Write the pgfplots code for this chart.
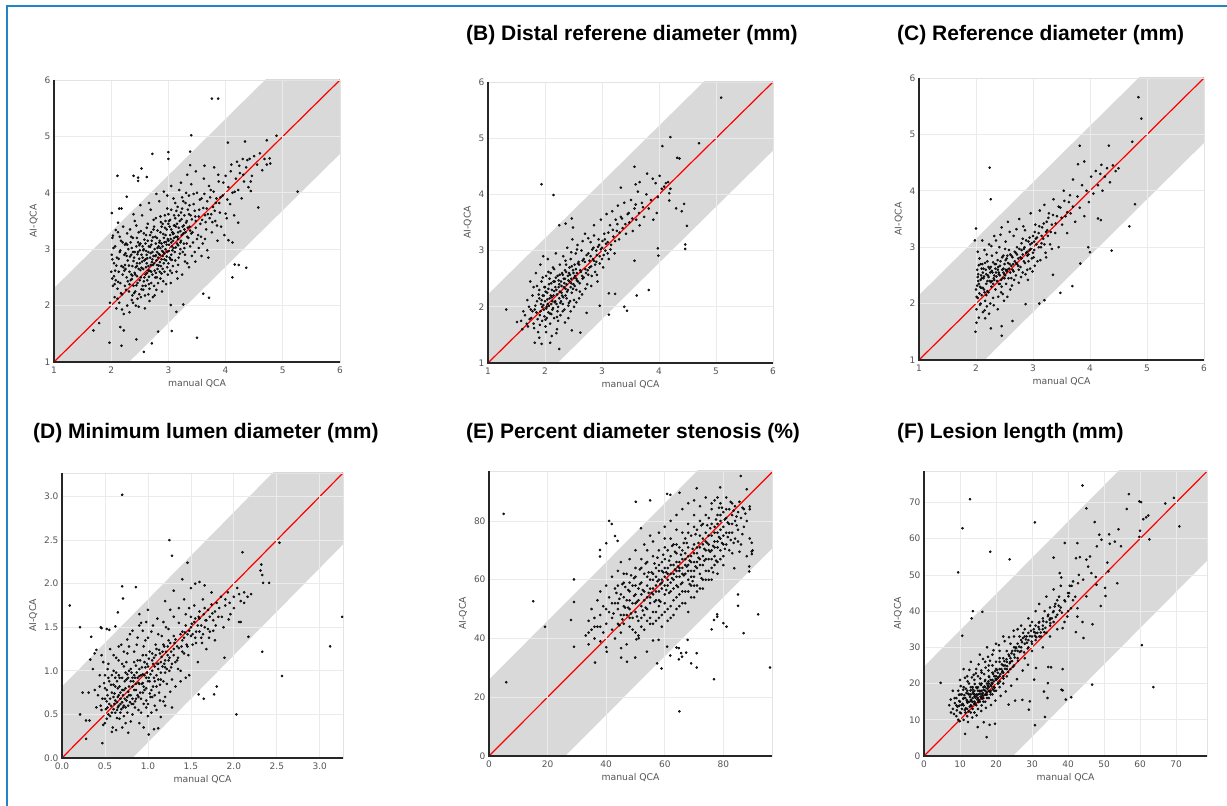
\documentclass[border=0pt]{standalone}
\usepackage{fontspec}
\usepackage{pgfplots}
\pgfplotsset{compat=1.18}
\newfontfamily\dejavu{DejaVu Sans}
\newfontfamily\titlefont{Liberation Sans}
\definecolor{frameblue}{HTML}{2185C5}
\definecolor{ticktext}{HTML}{555555}
\newcommand\ttl{\titlefont\bfseries\fontsize{21}{24}\selectfont}

\pgfplotsset{
  qca/.style={
    scale only axis,
    axis on top,
    axis line style={draw=gray!22, line width=0.8pt},
    grid=major,
    grid style={draw=gray!16, line width=0.8pt},
    major tick length=0pt,
    tick label style={font=\dejavu\fontsize{9}{10}\selectfont, text=ticktext},
    xticklabel style={yshift=-1.5pt},
    label style={font=\dejavu\fontsize{9.3}{11}\selectfont, text=ticktext},
    /pgf/number format/assume math mode=true,
    xlabel={manual QCA}, ylabel={AI-QCA},
    xlabel style={yshift=1pt},
    after end axis/.code={
      \draw[black!85, line width=1.5pt] (rel axis cs:0,1) -- (rel axis cs:0,0) -- (rel axis cs:1,0);
    },
  },
  pts/.style={only marks, mark=*, mark size=1.1pt, mark options={draw=none, fill=black!85}},
  band/.style={fill=gray!30, draw=none},
  diag/.style={red, line width=1.2pt},
}

\begin{document}
\begin{tikzpicture}
\useasboundingbox (0,0) rectangle (1227pt,806pt);
\fill[white] (0,0) rectangle (1227pt,806pt);
\draw[frameblue, line width=2pt] (7pt,0) -- (7pt,800pt) -- (1227pt,800pt);

% (A)
\begin{axis}[qca, at={(54pt,444pt)}, anchor=south west, width=286pt, height=282pt,
  xmin=1, xmax=6, ymin=1, ymax=6, xtick={1,...,6}, ytick={1,...,6}]
\addplot[band] coordinates {(1,2.31) (6,7.31) (6,4.69) (1,-0.31)};
\addplot[pts] coordinates {
(1.98,2.05)(2.0,2.6)(2.01,2.9)(2.02,3.2)(2.03,2.35)(2.05,2.75)(2.06,2.15)(2.07,3.05)(2.08,2.45)(2.09,1.95)(2.1,2.85)(2.11,2.3)(2.12,3.3)(2.13,2.6)(2.14,2.05)(2.15,2.95)(2.16,2.4)(2.17,3.15)(2.18,2.7)(2.19,2.2)(2.2,2.55)(2.21,3.4)(2.22,1.85)(2.23,2.9)(2.24,2.35)(2.25,2.65)(2.26,3.1)(2.27,2.5)(2.28,2.0)(2.29,2.8)
(2.3,3.0)(2.31,2.25)(2.32,2.6)(2.33,3.35)(2.34,2.45)(2.35,2.9)(2.36,2.1)(2.37,2.7)(2.38,3.2)(2.39,2.35)(2.4,2.85)(2.41,3.5)(2.42,2.55)(2.43,2.0)(2.44,3.05)(2.45,2.7)(2.46,2.4)(2.47,2.95)(2.48,3.3)(2.49,2.2)(2.5,2.75)(2.51,3.1)(2.52,2.5)(2.53,2.9)(2.54,3.6)(2.55,2.35)(2.56,2.65)(2.57,3.0)(2.58,2.8)(2.59,1.95)(2.6,2.55)(2.61,3.25)(2.62,2.9)(2.63,2.45)(2.64,3.45)(2.65,2.7)(2.66,3.05)(2.67,2.3)(2.68,2.85)(2.69,3.7)(2.7,2.6)(2.71,3.15)(2.72,2.95)(2.73,2.15)(2.74,3.35)(2.75,2.75)(2.76,3.0)(2.77,2.5)(2.78,3.55)(2.79,2.8)(2.8,3.2)(2.81,2.65)(2.82,2.4)(2.83,3.05)(2.84,3.85)(2.85,2.9)(2.86,3.3)(2.87,2.7)(2.88,3.1)(2.89,2.25)(2.9,3.45)(2.91,2.95)(2.92,3.2)(2.93,2.6)(2.94,3.6)(2.95,3.0)(2.96,2.8)(2.97,3.35)(2.98,3.95)(2.99,2.55)
(3.0,3.15)(3.01,3.5)(3.02,2.85)(3.03,3.25)(3.04,2.4)(3.05,3.7)(3.06,3.05)(3.07,3.3)(3.08,2.7)(3.09,3.9)(3.1,3.2)(3.11,2.95)(3.12,3.55)(3.13,3.4)(3.14,2.6)(3.15,3.1)(3.16,3.75)(3.17,3.3)(3.18,2.85)(3.19,4.05)(3.2,3.5)(3.21,3.0)(3.22,3.65)(3.23,3.25)(3.24,2.55)(3.25,3.4)(3.26,3.85)(3.27,3.1)(3.28,3.6)(3.29,2.9)(3.3,3.3)(3.31,4.0)(3.32,3.5)(3.33,2.75)(3.34,3.7)(3.35,3.2)(3.36,3.95)(3.37,3.4)(3.38,3.05)(3.39,3.6)(3.4,4.15)(3.42,3.3)(3.44,3.8)(3.46,2.95)(3.48,3.5)(3.5,4.0)(3.52,3.25)(3.54,3.7)(3.56,3.45)(3.58,3.9)(3.6,3.1)(3.62,4.25)(3.64,3.6)(3.66,3.35)(3.68,3.85)(3.7,2.85)(3.72,3.55)(3.74,4.05)(3.76,3.3)(3.78,3.75)(3.8,4.45)(3.82,3.5)(3.84,3.9)(3.86,3.15)(3.88,4.2)(3.9,3.65)(3.92,3.4)(3.95,3.95)(3.98,3.25)
(4.0,4.3)(4.02,3.55)(4.05,4.1)(4.08,3.8)(4.1,4.5)(4.12,4.0)(4.15,3.6)(4.18,4.25)(4.2,4.55)(4.22,4.05)(4.25,4.35)(4.28,3.9)(4.3,4.6)(4.32,4.2)(4.36,4.45)(4.4,4.1)(4.42,4.6)(4.46,4.3)(4.5,4.65)(4.55,4.5)(4.6,4.7)(4.64,4.4)(4.68,4.6)(4.72,4.5)
(2.35,2.55)(2.38,2.95)(2.42,2.25)(2.45,3.2)(2.48,2.65)(2.52,2.15)(2.55,3.05)(2.58,2.5)(2.62,2.75)(2.65,2.2)(2.68,3.25)(2.72,2.55)(2.75,2.35)(2.78,3.1)(2.82,2.85)(2.85,2.6)(2.88,3.4)(2.92,2.75)(2.95,3.25)(2.98,2.95)(3.02,3.4)(3.05,2.9)(3.08,3.15)(3.12,2.8)(3.15,3.45)(3.18,3.6)(3.22,3.15)(3.25,2.95)(3.28,3.35)(3.32,3.1)(2.5,2.45)(2.55,2.85)(2.6,3.1)(2.65,2.95)(2.7,2.4)(2.75,3.4)(2.8,2.5)(2.85,3.15)(2.9,2.65)(2.95,3.5)(3.0,2.75)(3.05,3.35)(3.1,3.6)(2.45,2.75)(2.6,2.35)(2.7,3.3)(2.8,2.95)(2.9,3.05)(3.0,3.45)
(3.76,5.67)(3.87,5.67)(3.40,5.02)(4.89,5.01)(4.72,4.93)(4.34,4.91)(4.04,4.89)(2.72,4.69)(3.0,4.72)(3.0,4.60)(3.38,4.73)(3.38,4.49)(2.11,4.30)(2.39,4.30)(2.47,4.27)(2.47,4.21)(2.62,4.28)(2.53,4.43)(2.27,3.93)(2.01,3.64)(2.14,3.72)(2.18,3.72)(2.12,3.47)(2.08,3.34)(2.03,3.24)
(5.26,4.02)(4.57,3.74)(4.44,4.20)(4.44,4.03)(4.16,2.73)(4.23,2.72)(4.36,2.67)(4.12,2.50)(3.61,2.21)(3.71,2.14)(3.50,1.43)(3.06,1.55)(2.82,1.54)(2.71,1.33)(2.57,1.18)(2.44,1.40)(1.97,1.34)(2.18,1.29)(1.69,1.56)(1.79,1.69)(2.22,1.56)(2.16,1.62)(3.14,1.89)(3.04,2.01)(3.26,2.02)(4.05,3.16)(4.12,3.12)(4.0,3.63)(4.22,3.47)(4.78,4.52)(4.77,4.61)
};
\addplot[pts] coordinates {
(2.23,2.62)(2.27,2.88)(2.31,2.71)(2.34,3.12)(2.36,2.47)(2.39,2.79)(2.41,2.58)(2.44,2.36)(2.46,2.91)(2.49,3.07)(2.51,2.63)(2.53,2.29)(2.56,2.98)(2.58,3.17)(2.61,2.68)(2.63,2.84)(2.66,2.51)(2.68,3.04)(2.71,2.77)(2.73,3.21)(2.76,2.62)(2.78,2.89)(2.81,3.33)(2.83,2.71)(2.86,3.02)(2.88,2.57)(2.91,3.27)(2.93,2.92)(2.96,3.13)(2.98,2.68)(3.01,3.08)(3.03,3.52)(3.06,2.81)(3.08,3.27)(3.11,3.42)(3.13,3.03)(3.16,3.22)(3.18,3.38)(3.21,3.12)(3.23,3.53)(3.26,3.28)(3.28,3.02)(3.31,3.47)(3.33,3.22)(3.36,3.62)(3.38,3.33)(3.41,3.53)(3.43,3.12)(3.46,3.68)(3.48,3.38)(3.53,3.58)(3.57,3.22)(3.61,3.73)(3.65,3.48)(3.69,3.62)(3.73,3.92)(3.77,3.48)(3.81,3.68)(3.85,3.42)(3.89,3.82)
(2.05,2.52)(2.09,2.71)(2.13,2.83)(2.17,2.22)(2.21,2.68)(2.25,2.93)(2.29,2.43)(2.33,2.87)(2.37,2.53)(2.41,2.95)(2.45,2.52)(2.49,2.83)(2.53,2.67)(2.57,2.43)(2.61,2.97)(2.65,2.62)(2.69,2.93)(2.73,2.72)(2.77,2.88)(2.81,3.02)(2.85,2.77)(2.89,2.97)(2.93,3.12)(2.97,2.87)(3.01,2.97)(3.05,3.12)(3.09,3.02)(3.13,3.22)(3.17,3.07)(3.21,3.32)(2.62,3.38)(2.74,3.52)(2.86,3.58)(2.98,3.72)(3.12,3.82)(3.24,3.92)(2.52,3.32)(2.44,3.42)(2.35,3.22)(2.28,3.28)
(2.59,2.18)(2.67,2.08)(2.79,2.28)(2.91,2.43)(3.03,2.62)(3.17,2.72)(3.29,2.78)(3.41,2.88)(3.53,3.02)(3.64,3.18)(2.38,2.05)(2.48,1.98)(2.32,1.88)(2.19,1.93)(2.11,2.12)(2.06,2.38)(2.02,2.82)(2.04,3.02)(2.15,3.22)(2.24,3.08)
(2.02,2.48)(2.07,2.62)(2.12,2.42)(2.16,2.98)(2.2,3.12)(2.24,2.72)(2.28,3.08)(2.32,2.38)(2.36,3.02)(2.4,2.22)(2.43,2.68)(2.47,3.12)(2.5,2.98)(2.54,2.78)(2.57,3.28)(2.6,2.82)(2.64,3.15)(2.67,2.62)(2.7,3.08)(2.74,2.88)(2.77,3.22)(2.8,2.72)(2.84,3.12)(2.87,3.48)(2.9,2.88)(2.94,3.38)(2.97,3.08)(3.0,3.62)(3.04,3.18)(3.07,2.98)(3.1,3.42)(3.14,3.68)(3.17,3.18)(3.2,2.92)(3.24,3.72)(3.27,3.42)(3.3,3.82)(3.34,3.38)(3.37,3.78)(3.4,3.28)
(3.44,3.98)(3.47,3.58)(3.5,3.18)(3.55,3.88)(3.59,3.52)(3.63,3.98)(3.67,3.72)(3.71,4.12)(3.75,3.62)(3.79,4.02)(3.83,3.82)(3.87,4.32)(3.91,3.92)(3.96,4.18)(4.03,3.88)(4.09,4.38)(4.16,4.02)(4.24,4.48)(4.31,4.32)(4.38,4.58)(2.26,2.28)(2.37,2.18)(2.46,2.12)(2.56,2.28)(2.66,2.38)(2.76,2.18)(2.86,2.48)(2.96,2.38)(3.06,2.58)(3.16,2.48)(3.36,2.68)(3.47,2.78)(3.58,2.88)(3.68,2.98)
(2.63,2.58)(2.69,2.72)(2.72,2.82)(2.78,2.58)(2.83,2.92)(2.88,2.82)(2.93,2.82)(2.99,3.18)(3.04,2.82)(3.09,3.28)(2.39,3.62)(2.51,3.78)(2.66,3.82)(2.79,3.98)(2.92,4.02)(3.05,4.12)(3.22,4.18)(3.33,4.32)(3.48,4.38)(3.63,4.48)
};
\addplot[diag] coordinates {(1,1) (6,6)};
\end{axis}

% (B)
\begin{axis}[qca, at={(488pt,443pt)}, anchor=south west, width=285pt, height=281pt,
  xmin=1, xmax=6, ymin=1, ymax=6, xtick={1,...,6}, ytick={1,...,6}]
\addplot[band] coordinates {(1,2.22) (6,7.22) (6,4.78) (1,-0.22)};
\addplot[pts] coordinates {
(1.7,1.65)(1.72,2.0)(1.74,2.45)(1.76,1.8)(1.78,2.2)(1.8,1.7)(1.82,1.95)(1.84,2.6)(1.86,2.1)(1.88,1.55)(1.9,2.3)(1.91,1.85)(1.92,2.75)(1.93,2.05)(1.94,2.45)(1.95,1.75)(1.96,2.2)(1.97,2.9)(1.98,1.95)(1.99,2.35)(2.0,2.1)(2.01,1.65)(2.02,2.55)(2.03,2.0)(2.04,2.25)(2.05,2.85)(2.06,1.9)(2.07,2.4)(2.08,2.15)(2.09,1.7)(2.1,2.6)(2.11,2.05)(2.12,2.3)(2.13,1.95)(2.14,2.7)(2.15,2.2)(2.16,1.8)(2.17,2.45)(2.18,2.1)(2.19,2.95)(2.2,2.3)(2.21,1.6)(2.22,2.55)(2.23,2.0)(2.24,2.35)(2.25,2.15)(2.26,2.75)(2.27,1.85)(2.28,2.45)(2.29,2.25)
(2.3,2.6)(2.31,2.05)(2.32,2.9)(2.33,2.35)(2.34,1.95)(2.35,2.5)(2.36,2.2)(2.37,2.75)(2.38,2.4)(2.39,3.05)(2.4,2.3)(2.41,1.8)(2.42,2.6)(2.43,2.45)(2.44,2.1)(2.45,2.85)(2.46,2.5)(2.47,2.25)(2.48,3.2)(2.49,2.65)(2.5,2.4)(2.51,2.0)(2.52,2.75)(2.53,2.55)(2.54,2.95)(2.55,2.3)(2.56,2.6)(2.57,3.1)(2.58,2.45)(2.59,2.8)(2.6,2.15)(2.62,2.65)(2.64,3.0)(2.66,2.5)(2.68,2.85)(2.7,3.3)(2.72,2.6)(2.74,2.4)(2.76,2.95)(2.78,2.7)(2.8,3.15)(2.82,2.55)(2.84,2.85)(2.86,3.45)(2.88,2.75)(2.9,3.0)(2.92,2.45)(2.94,3.2)(2.96,2.9)(2.98,3.55)
(3.0,3.05)(3.02,2.7)(3.04,3.3)(3.06,3.0)(3.08,3.65)(3.1,3.15)(3.12,2.85)(3.14,3.45)(3.16,3.1)(3.18,3.7)(3.2,3.25)(3.22,2.95)(3.24,3.55)(3.26,3.35)(3.28,3.8)(3.3,3.2)(3.33,3.6)(3.36,3.4)(3.39,3.85)(3.42,3.3)(3.45,3.65)(3.48,3.5)(3.51,3.9)(3.54,3.35)(3.57,3.75)(3.6,3.55)(3.63,4.05)(3.66,3.45)(3.7,3.85)(3.74,3.6)(3.78,4.0)(3.82,3.75)(3.86,3.9)(3.9,3.55)(3.94,4.2)(3.98,3.95)(4.05,4.1)(4.12,4.2)(4.2,4.1)
(1.85,1.9)(1.9,2.15)(1.95,2.0)(2.0,2.35)(2.05,2.05)(2.1,2.2)(2.15,2.45)(2.2,2.05)(2.25,2.4)(2.3,2.2)(2.35,2.65)(2.4,2.55)(2.45,2.35)(2.5,2.6)(2.55,2.5)(2.6,2.75)(2.65,2.55)(2.7,2.8)(2.75,2.65)(2.8,2.9)(2.85,3.05)(2.9,2.8)(2.95,3.1)(3.0,2.85)(3.05,3.2)(3.1,2.95)(1.98,2.2)(2.03,1.8)(2.08,2.5)(2.13,2.1)(2.18,2.35)(2.23,1.75)(2.28,2.1)(2.33,2.5)(2.38,2.15)(2.43,2.7)(1.8,2.35)(1.75,1.95)(1.68,1.7)(1.65,1.85)
(5.09,5.72)(4.2,5.02)(4.06,4.86)(4.70,4.91)(4.32,4.65)(4.36,4.64)(1.94,4.18)(2.15,3.99)(2.25,3.45)(2.49,3.41)(2.36,3.48)(2.47,3.57)(1.32,1.95)(1.51,1.73)(2.25,1.25)(1.82,1.36)(1.94,1.34)(2.09,1.36)(2.20,1.53)(2.47,1.58)(2.62,1.54)(2.73,1.89)(2.96,2.02)(3.12,1.86)(3.39,2.0)(3.44,1.93)(3.61,2.20)(3.82,2.30)(3.12,2.24)(3.23,2.23)
(3.57,4.49)(3.98,3.04)(3.99,2.91)(4.46,3.11)(4.46,3.03)(4.49,3.44)(4.44,3.83)(4.30,3.75)(4.40,3.70)(4.18,3.89)(3.96,3.67)(3.33,4.12)(3.79,4.37)(4.01,4.33)(3.89,4.28)(3.59,4.18)(3.66,4.22)(4.16,4.22)(4.18,4.02)(4.09,4.14)(3.57,2.82)
};
\addplot[pts] coordinates {
(1.83,2.02)(1.87,1.78)(1.89,2.22)(1.92,1.92)(1.94,2.12)(1.97,2.03)(1.99,1.83)(2.01,2.27)(2.02,1.97)(2.04,2.13)(2.06,2.32)(2.07,2.02)(2.09,1.88)(2.11,2.42)(2.12,2.17)(2.14,1.98)(2.16,2.28)(2.17,2.08)(2.19,2.52)(2.21,2.22)(2.22,1.92)(2.24,2.47)(2.26,2.27)(2.27,2.07)(2.29,2.37)(2.31,2.57)(2.32,2.17)(2.34,2.42)(2.36,2.32)(2.37,2.62)(2.39,2.27)(2.41,2.47)(2.42,2.07)(2.44,2.57)(2.46,2.42)(2.47,2.72)(2.49,2.32)(2.51,2.52)(2.52,2.37)(2.54,2.67)(2.56,2.47)(2.58,2.77)(2.61,2.42)(2.63,2.62)(2.66,2.82)(2.68,2.52)(2.71,2.67)(2.73,2.92)(2.76,2.57)(2.78,2.82)(2.81,2.72)(2.83,3.02)(2.86,2.82)(2.88,2.62)(2.91,2.92)(2.93,3.07)(2.96,2.77)(2.98,3.02)(3.01,3.17)(3.03,2.92)
(3.07,3.12)(3.11,3.32)(3.15,3.02)(3.19,3.37)(3.23,3.17)(3.27,3.47)(3.31,3.32)(3.35,3.57)(3.41,3.47)(3.47,3.67)(3.53,3.57)(3.59,3.82)(3.65,3.67)(3.72,3.77)(1.78,1.92)(1.81,1.62)(1.86,2.37)(1.91,1.68)(1.96,2.52)(2.01,1.77)(2.06,2.62)(2.11,1.87)(2.16,2.67)(2.21,1.82)(2.26,2.57)(2.31,1.92)(2.36,2.82)(2.41,2.02)(2.46,2.97)(2.51,2.12)(2.56,3.02)(2.61,2.27)(2.66,3.17)(2.71,2.32)(2.76,3.22)(2.81,2.37)(2.86,3.27)(2.91,2.57)
(1.73,1.78)(1.69,2.12)(1.62,1.92)(1.6,1.6)(1.58,1.75)(2.35,1.72)(2.45,1.92)(2.55,2.08)(2.65,2.22)(2.02,1.55)(2.12,1.48)(1.9,1.45)
};
\addplot[diag] coordinates {(1,1) (6,6)};
\end{axis}

% (C)
\begin{axis}[qca, at={(919pt,446pt)}, anchor=south west, width=285pt, height=282pt,
  xmin=1, xmax=6, ymin=1, ymax=6, xtick={1,...,6}, ytick={1,...,6}]
\addplot[band] coordinates {(1,2.15) (6,7.15) (6,4.85) (1,-0.15)};
\addplot[pts] coordinates {
(2.0,2.25)(2.01,1.9)(2.02,2.6)(2.03,2.1)(2.04,2.4)(2.05,1.75)(2.06,2.8)(2.07,2.3)(2.08,2.0)(2.09,2.5)(2.1,2.15)(2.11,2.7)(2.12,1.85)(2.13,2.45)(2.14,2.25)(2.15,2.95)(2.16,2.05)(2.17,2.6)(2.18,2.35)(2.19,1.95)(2.2,2.75)(2.21,2.5)(2.22,2.2)(2.23,3.05)(2.24,2.4)(2.25,2.0)(2.26,2.65)(2.27,2.3)(2.28,2.85)(2.29,2.55)
(2.3,2.1)(2.31,2.45)(2.32,3.2)(2.33,2.7)(2.34,2.25)(2.35,2.55)(2.36,2.9)(2.37,2.4)(2.38,1.9)(2.39,2.65)(2.4,2.35)(2.41,3.0)(2.42,2.5)(2.43,2.75)(2.44,2.2)(2.45,3.35)(2.46,2.6)(2.47,2.45)(2.48,2.85)(2.49,2.05)(2.5,2.7)(2.51,2.5)(2.52,3.1)(2.53,2.35)(2.54,2.8)(2.55,2.6)(2.56,3.45)(2.57,2.45)(2.58,2.95)(2.59,2.7)(2.6,2.25)(2.62,2.85)(2.64,2.6)(2.66,3.2)(2.68,2.75)(2.7,2.5)(2.72,3.0)(2.74,2.8)(2.76,3.5)(2.78,2.65)(2.8,2.95)(2.82,3.15)(2.84,2.75)(2.86,3.3)(2.88,2.9)(2.9,2.6)(2.92,3.1)(2.94,2.95)(2.96,3.6)(2.98,2.8)
(3.0,3.2)(3.02,2.95)(3.04,3.4)(3.06,3.05)(3.08,2.75)(3.1,3.25)(3.12,3.65)(3.14,3.0)(3.16,3.35)(3.18,3.15)(3.2,3.75)(3.22,2.9)(3.24,3.45)(3.26,3.2)(3.28,3.6)(3.3,3.05)(3.33,3.4)(3.36,3.85)(3.39,3.25)(3.42,3.55)(3.45,3.0)(3.48,3.7)(3.51,3.4)(3.54,4.0)(3.57,3.55)(3.6,3.25)(3.63,3.8)(3.66,3.6)(3.7,4.2)(3.74,3.45)(3.78,3.9)(3.82,3.7)(3.86,4.1)(3.9,3.55)(3.94,4.0)(3.98,3.8)(4.02,4.25)(4.06,3.95)(4.1,4.35)(4.14,4.1)(4.18,4.3)(4.22,4.0)(4.26,4.25)(4.3,4.4)(4.35,4.15)(4.4,4.45)(4.45,4.35)(4.5,4.4)
(2.05,2.35)(2.1,2.45)(2.15,2.2)(2.2,2.4)(2.25,2.55)(2.3,2.35)(2.35,2.7)(2.4,2.55)(2.45,2.3)(2.5,2.45)(2.55,2.85)(2.6,2.55)(2.65,2.7)(2.7,2.9)(2.75,2.6)(2.8,2.8)(2.85,3.0)(2.9,2.85)(2.95,3.05)(3.0,2.9)(3.05,3.15)(3.1,3.0)(3.15,3.2)(3.2,3.05)(3.25,3.3)(2.12,2.55)(2.22,2.65)(2.32,2.5)(2.42,2.35)(2.52,2.6)(2.62,2.45)(2.72,2.7)(2.82,2.55)(2.92,2.75)(3.02,3.1)(2.08,2.7)(2.18,2.15)(2.28,2.4)(2.38,2.6)(2.48,2.55)
(4.85,5.66)(4.90,5.28)(4.33,4.80)(3.82,4.80)(4.74,4.87)(3.90,4.52)(3.79,4.47)(4.20,4.46)(2.24,4.41)(2.26,3.85)(2.0,3.33)(1.98,3.12)(4.79,3.76)(4.69,3.37)(4.38,2.94)(4.0,2.91)(3.69,2.31)(3.48,2.19)(3.20,2.06)(3.11,2.0)(2.87,1.99)(2.64,1.69)(2.45,1.43)(2.45,1.60)(1.99,1.50)(2.01,1.66)(2.26,1.56)(2.16,1.74)(3.35,2.51)(3.83,2.71)(3.97,3.0)(4.14,3.51)(4.19,3.48)
};
\addplot[pts] coordinates {
(2.02,2.32)(2.04,2.52)(2.06,2.18)(2.08,2.42)(2.1,2.62)(2.12,2.28)(2.14,2.48)(2.16,2.72)(2.18,2.52)(2.2,2.22)(2.22,2.47)(2.24,2.62)(2.26,2.38)(2.28,2.58)(2.3,2.73)(2.32,2.42)(2.34,2.62)(2.36,2.48)(2.38,2.77)(2.4,2.52)(2.42,2.67)(2.44,2.42)(2.46,2.82)(2.48,2.62)(2.5,2.52)(2.52,2.77)(2.54,2.57)(2.56,2.72)(2.58,2.62)(2.6,2.87)(2.62,2.67)(2.64,2.82)(2.66,2.57)(2.68,2.92)(2.7,2.72)(2.72,2.87)(2.74,2.67)(2.76,2.97)(2.78,2.82)(2.8,3.07)(2.82,2.87)(2.84,2.97)(2.86,2.72)(2.88,3.12)(2.9,2.92)(2.92,2.87)(2.94,3.17)(2.96,2.97)(2.98,3.07)(3.01,2.82)
(3.03,3.27)(3.07,3.17)(3.11,3.37)(3.15,3.07)(3.19,3.42)(3.23,3.27)(3.27,3.52)(3.31,3.27)(3.35,3.57)(3.4,3.42)(3.45,3.72)(3.5,3.52)(3.55,3.82)(3.6,3.62)(3.65,3.92)(3.7,3.72)(2.03,2.92)(2.07,1.98)(2.11,3.12)(2.15,1.88)(2.19,2.87)(2.23,1.82)(2.27,3.02)(2.31,1.97)(2.35,3.12)(2.39,2.12)(2.43,3.22)(2.47,2.17)(2.51,2.97)(2.55,2.12)(2.59,3.27)(2.63,2.32)(2.67,2.42)(2.71,3.32)(2.75,2.37)(2.79,2.47)(2.83,3.37)(2.87,2.52)(2.91,2.42)(2.95,2.62)(2.99,2.57)(3.03,2.67)(3.13,2.77)(3.23,2.82)(3.33,2.97)(2.01,2.12)(2.03,2.47)(2.05,2.68)(2.09,2.28)(2.13,2.62)
};
\addplot[diag] coordinates {(1,1) (6,6)};
\end{axis}

% (D)
\begin{axis}[qca, at={(62pt,48pt)}, anchor=south west, width=281pt, height=285pt,
  xmin=0, xmax=3.27, ymin=0, ymax=3.27, xtick={0,0.5,...,3.0}, ytick={0,0.5,...,3.0},
  xticklabels={0.0,0.5,1.0,1.5,2.0,2.5,3.0}, yticklabels={0.0,0.5,1.0,1.5,2.0,2.5,3.0}]
\addplot[band] coordinates {(0,0.82) (3.27,4.09) (3.27,2.45) (0,-0.82)};
\addplot[pts] coordinates {
(0.42,0.72)(0.44,0.95)(0.46,0.55)(0.48,1.1)(0.5,0.8)(0.5,0.4)(0.52,0.65)(0.53,1.02)(0.54,0.5)(0.55,0.88)(0.56,1.25)(0.57,0.6)(0.58,0.75)(0.59,0.35)(0.6,1.0)(0.61,0.62)(0.62,0.82)(0.63,1.15)(0.64,0.55)(0.65,0.7)(0.66,0.95)(0.67,0.45)(0.68,0.62)(0.69,1.3)(0.7,0.78)(0.71,0.58)(0.72,1.05)(0.73,0.68)(0.74,0.4)(0.75,0.9)(0.76,1.2)(0.77,0.6)(0.78,0.82)(0.79,1.42)
(0.8,0.72)(0.81,0.98)(0.82,0.5)(0.83,0.88)(0.84,1.1)(0.85,0.65)(0.86,0.78)(0.87,1.3)(0.88,0.92)(0.89,0.55)(0.9,1.02)(0.91,0.75)(0.92,1.55)(0.93,0.85)(0.94,1.18)(0.95,0.62)(0.96,0.95)(0.97,1.35)(0.98,0.8)(0.99,1.08)(1.0,0.48)(1.01,0.92)(1.02,1.22)(1.03,0.7)(1.04,1.45)(1.05,1.0)(1.06,0.82)(1.07,1.15)(1.08,0.6)(1.09,1.3)(1.1,0.95)(1.11,1.6)(1.12,1.08)(1.13,0.75)(1.14,1.2)(1.15,0.9)(1.16,1.4)(1.17,1.05)(1.18,0.65)(1.19,1.28)
(1.2,1.12)(1.21,1.5)(1.22,0.85)(1.23,1.18)(1.24,1.35)(1.25,1.0)(1.26,1.7)(1.27,1.22)(1.28,0.9)(1.3,1.4)(1.32,1.1)(1.34,1.28)(1.36,1.55)(1.38,1.0)(1.4,1.35)(1.42,1.2)(1.44,1.65)(1.46,1.42)(1.48,0.95)(1.5,1.5)(1.52,1.3)(1.54,1.75)(1.56,1.45)(1.58,1.1)(1.6,1.6)(1.62,1.38)(1.64,1.82)(1.66,1.5)(1.68,1.25)(1.7,1.7)(1.72,1.45)(1.74,1.9)(1.76,1.58)(1.78,1.35)(1.8,1.78)(1.82,1.62)(1.85,1.85)(1.88,1.5)(1.9,1.75)(1.93,1.9)(1.96,1.65)(2.0,1.85)(2.04,1.95)(2.08,1.8)(2.12,1.9)(2.16,1.85)(2.2,1.88)(1.55,2.0)(1.6,2.02)(1.66,1.98)(1.5,1.95)(1.4,2.05)(1.3,1.92)(1.2,1.8)(1.0,1.7)(0.9,1.65)
(0.55,0.62)(0.58,0.95)(0.6,0.7)(0.62,0.52)(0.64,0.88)(0.66,0.6)(0.68,0.75)(0.7,0.92)(0.72,0.6)(0.74,0.8)(0.76,0.7)(0.78,1.0)(0.8,0.88)(0.82,0.68)(0.84,0.95)(0.86,0.85)(0.88,1.12)(0.9,0.85)(0.92,0.95)(0.94,0.75)(0.96,1.1)(0.98,0.92)(1.0,1.05)(1.02,0.88)(1.05,1.2)(1.08,1.05)(1.1,1.25)(1.12,0.9)(1.15,1.1)(1.18,1.3)(1.2,0.98)(1.25,1.15)(1.3,1.25)(1.35,1.15)(1.4,1.45)(1.45,1.3)(1.5,1.4)(1.55,1.6)(1.6,1.45)(1.65,1.65)(0.65,0.8)(0.75,1.1)(0.85,0.58)(0.95,1.28)(1.05,0.7)(0.45,0.6)(0.5,0.95)(0.52,0.45)(0.38,0.78)(0.36,1.02)(0.4,0.58)(0.48,0.38)(0.58,0.3)(0.7,0.35)(0.8,0.42)(0.9,0.4)(0.95,0.35)(1.0,0.62)(1.1,0.55)(1.2,0.7)
(0.70,3.02)(1.25,2.50)(1.28,2.32)(1.46,2.24)(2.10,2.36)(2.53,2.47)(2.32,2.22)(2.31,2.15)(2.33,2.10)(2.41,2.01)(2.34,2.01)(0.70,1.97)(0.86,1.96)(0.71,1.83)(0.65,1.67)(0.09,1.75)(0.21,1.50)(0.45,1.50)(0.46,1.49)(0.34,1.39)(0.40,1.24)(0.38,1.20)(0.33,1.13)(0.52,1.48)(0.55,1.47)(0.62,1.51)
(3.26,1.62)(3.12,1.28)(2.33,1.22)(2.56,0.94)(2.03,0.50)(2.17,1.39)(2.06,1.56)(2.08,1.56)(1.94,1.59)(1.89,1.15)(1.80,0.82)(1.77,0.73)(1.65,0.68)(1.59,0.73)(1.28,0.58)(1.15,0.47)(1.12,0.34)(1.07,0.33)(1.01,0.27)(0.47,0.17)(0.28,0.22)(0.21,0.50)(0.24,0.75)(0.31,0.75)(0.28,0.43)(0.32,0.43)(0.77,0.29)(0.63,0.32)
};
\addplot[pts] coordinates {
(0.52,0.78)(0.54,0.92)(0.56,0.68)(0.58,0.52)(0.6,0.84)(0.62,0.66)(0.63,0.98)(0.65,0.58)(0.67,0.82)(0.68,0.68)(0.7,1.08)(0.71,0.72)(0.73,0.88)(0.74,0.58)(0.76,0.96)(0.77,0.76)(0.79,0.64)(0.8,1.02)(0.82,0.82)(0.83,0.62)(0.85,0.92)(0.86,1.06)(0.88,0.72)(0.89,0.86)(0.91,1.12)(0.92,0.68)(0.94,0.96)(0.95,0.82)(0.97,1.04)(0.98,0.66)(1.0,0.88)(1.01,1.14)(1.03,0.96)(1.04,0.78)(1.06,1.08)(1.07,0.92)(1.09,1.18)(1.1,0.82)(1.12,1.02)(1.13,1.24)(1.15,0.98)(1.16,1.16)(1.18,0.88)(1.19,1.08)(1.21,1.22)(1.22,1.02)(1.24,1.12)(1.26,1.32)(1.28,1.08)(1.3,1.18)
(1.32,1.36)(1.34,1.12)(1.36,1.26)(1.38,1.42)(1.4,1.22)(1.42,1.38)(1.44,1.52)(1.46,1.28)(1.48,1.46)(1.5,1.62)(1.52,1.42)(1.54,1.56)(1.56,1.32)(1.58,1.52)(1.6,1.68)(1.62,1.52)(1.64,1.42)(1.66,1.72)(1.68,1.58)(1.7,1.48)(1.72,1.62)(1.74,1.76)(1.76,1.46)(1.78,1.68)(0.47,0.68)(0.49,0.86)(0.51,0.56)(0.53,0.72)(0.56,0.48)(0.6,0.56)(0.64,0.46)(0.68,0.52)(0.72,0.48)(0.76,0.52)
(0.66,1.12)(0.72,1.22)(0.78,1.28)(0.84,1.22)(0.88,1.38)(0.94,1.46)(1.0,1.38)(1.06,1.52)(1.12,1.42)(1.18,1.56)(1.24,1.48)(1.3,1.62)(1.36,1.72)(1.42,1.82)(1.48,1.72)(0.92,0.52)(0.98,0.58)(1.04,0.52)(1.08,0.72)(1.14,0.66)(1.2,0.6)(1.26,0.76)(1.32,0.82)(1.38,0.88)(1.44,0.92)
(0.5,0.68)(0.53,0.58)(0.57,0.84)(0.61,0.74)(0.64,0.64)(0.67,0.92)(0.69,0.56)(0.72,0.78)(0.75,0.66)(0.77,0.92)(0.81,0.62)(0.84,0.78)(0.87,0.98)(0.89,0.7)(0.93,1.04)(0.96,0.78)(0.99,0.98)(1.02,0.74)(1.05,1.12)(1.08,0.88)(1.11,1.08)(1.14,0.84)(1.17,1.22)(1.2,1.04)(1.23,1.28)(1.27,1.04)(1.31,1.32)(1.35,1.02)(1.39,1.28)(1.43,1.44)(1.47,1.18)(1.51,1.54)(1.55,1.38)(1.59,1.62)(1.63,1.32)(1.67,1.58)(1.71,1.38)(1.75,1.66)(1.79,1.52)(1.83,1.72)(1.86,1.62)(1.9,1.82)(1.95,1.78)(2.0,1.72)(2.06,1.88)(2.12,1.78)
(0.62,0.92)(0.66,0.72)(0.7,0.64)(0.74,0.98)(0.78,0.72)(0.82,0.92)(0.86,0.68)(0.9,0.94)(0.94,0.86)(0.98,1.18)(0.44,0.82)(0.46,1.18)(0.54,1.08)(0.6,1.18)(0.66,1.28)(0.76,1.36)(0.82,1.46)(0.9,1.52)(0.98,1.56)
};
\addplot[diag] coordinates {(0,0) (3.27,3.27)};
\end{axis}

% (E)
\begin{axis}[qca, at={(489pt,50pt)}, anchor=south west, width=283pt, height=285pt,
  xmin=0, xmax=96.6, ymin=0, ymax=97, xtick={0,20,...,80}, ytick={0,20,...,80}]
\addplot[band] coordinates {(0,26) (96.6,122.6) (96.6,70.6) (0,-26)};
\addplot[pts] coordinates {
(33,41)(34,46)(34,38)(35,43)(35,50)(36,40)(36,47)(37,44)(37,53)(38,39)(38,48)(38,56)(39,42)(39,51)(40,45)(40,58)(40,37)(41,49)(41,54)(42,43)(42,61)(42,47)(43,52)(43,40)(43,57)(44,45)(44,63)(44,50)(45,48)(45,55)(45,42)(45,66)
(46,51)(46,59)(46,45)(47,53)(47,48)(47,62)(47,38)(48,56)(48,50)(48,44)(48,67)(49,52)(49,58)(49,47)(50,55)(50,49)(50,61)(50,42)(50,70)(51,53)(51,57)(51,46)(52,59)(52,51)(52,64)(52,44)(53,56)(53,48)(53,62)(53,72)(54,54)(54,58)(54,50)(54,66)(55,52)(55,60)(55,45)(55,57)(55,75)
(56,55)(56,62)(56,49)(56,68)(57,58)(57,53)(57,64)(57,46)(58,60)(58,56)(58,70)(58,51)(59,57)(59,63)(59,48)(59,66)(60,61)(60,55)(60,67)(60,52)(60,74)(61,58)(61,64)(61,50)(61,70)(62,62)(62,56)(62,68)(62,47)(63,60)(63,65)(63,53)(63,72)(64,63)(64,58)(64,69)(64,50)(64,77)(65,61)(65,66)(65,55)(65,71)
(66,64)(66,59)(66,70)(66,52)(67,67)(67,62)(67,74)(67,56)(68,65)(68,60)(68,71)(68,49)(68,79)(69,68)(69,63)(69,58)(69,75)(70,66)(70,72)(70,61)(70,54)(70,82)(71,69)(71,64)(71,77)(71,58)(72,71)(72,67)(72,62)(72,85)(73,74)(73,65)(73,79)(73,57)(74,70)(74,76)(74,63)(74,88)(75,72)(75,67)(75,81)(75,60)
(76,75)(76,70)(76,84)(76,64)(77,78)(77,73)(77,68)(77,87)(78,76)(78,82)(78,71)(78,62)(79,80)(79,74)(79,86)(79,67)(80,78)(80,83)(80,72)(80,65)(81,81)(81,76)(81,88)(82,79)(82,84)(82,70)(83,82)(83,76)(83,86)(84,80)(84,74)(84,85)(85,83)(85,77)(86,81)(86,72)(87,84)(87,78)(88,80)(88,68)(89,74)(90,70)
(52,55)(54,61)(56,57)(58,63)(60,58)(62,65)(64,61)(66,67)(68,63)(70,69)(72,65)(74,73)(76,67)(78,79)(58,53)(60,64)(62,59)(64,66)(66,62)(68,68)(70,63)(48,53)(50,58)(46,54)(44,52)(72,75)(74,67)(76,79)(78,73)(80,75)
(5.0,82.4)(5.9,25.1)(15.1,52.7)(19.1,44.0)(29.0,60.1)(29.0,52.4)(29.0,37.2)(28.0,46.3)(37.9,70.1)(37.9,67.9)(40.0,72.4)(41.0,80.0)(41.9,79.0)(43.0,74.9)(43.9,73.2)(50.1,86.5)(55.0,87.0)(51.9,77.5)
(85.9,95.3)(88.0,90.8)(89.0,84.9)(89.0,84.0)(96.8,82.1)(89.7,72.6)(89.7,69.6)(89.7,68.7)(88.8,64.5)(88.8,62.8)(83.7,63.9)(91.9,48.2)(86.9,41.8)(85.0,55.0)(85.0,51.1)(95.9,30.1)(76.8,26.1)(65.0,15.2)
(77.9,48.2)(77.9,47.4)(80.0,45.2)(81.1,44.0)(76.8,46.3)(76.0,43.1)(58.9,29.8)(57.4,31.5)(64.0,36.9)(64.8,36.7)(65.6,35.0)(65.9,33.8)(64.8,32.9)(67.3,35.2)(69.0,31.5)(70.9,30.1)(70.9,35.0)(61.9,34.2)(60.8,37.2)(67.8,39.5)
(36.2,31.8)(40.2,35.5)(45.1,36.7)(45.1,33.5)(47.1,32.1)(49.9,33.5)(53.9,35.5)(56.0,39.3)(57.9,39.5)(50.3,39.7)(51.1,40.1)(60.8,89.2)(61.9,88.9)(65.0,89.6)(70.9,91.1)(78.9,91.4)
};
\addplot[pts] coordinates {
(44.5,53.5)(45.5,46.5)(46.5,57.5)(47.5,50.5)(48.5,61.5)(49.5,54.5)(50.5,47.5)(51.5,63.5)(52.5,56.5)(53.5,50.5)(54.5,62.5)(55.5,55.5)(56.5,65.5)(57.5,59.5)(58.5,52.5)(59.5,68.5)(60.5,62.5)(61.5,55.5)(62.5,71.5)(63.5,63.5)(64.5,57.5)(65.5,68.5)(66.5,61.5)(67.5,72.5)(68.5,66.5)(69.5,59.5)(70.5,75.5)(71.5,67.5)(72.5,60.5)(73.5,70.5)(74.5,78.5)(75.5,69.5)(76.5,62.5)(77.5,80.5)(78.5,74.5)(79.5,84.5)(80.5,70.5)(81.5,79.5)(82.5,73.5)(83.5,83.5)(84.5,78.5)(85.5,86.5)(86.5,75.5)(87.5,82.5)
(46,62)(48,59)(50,64)(52,67)(54,70)(56,73)(58,76)(60,78)(62,80)(64,82)(66,84)(68,86)(70,87)(49,43)(51,41)(53,43)(55,47)(57,49)(59,44)(61,46)(63,48)(65,51)(67,52)(69,54)(71,56)(73,60)(75,63)(77,65)(79,70)(81,72)(83,69)(85,73)(42,52)(40,50)(38,44)(36,44)(34,42)(44,58)(46,48)(48,47)(57,61)(59,60)(61,62)(63,57)(65,64)(67,65)(69,61)(71,66)(73,68)(75,75)(77,76)(79,77)(81,84)(83,79)
(42.5,48.5)(43.5,55.5)(44.5,44.5)(45.5,58.5)(46.5,50.5)(47.5,56.5)(48.5,48.5)(49.5,60.5)(50.5,52.5)(51.5,58.5)(52.5,49.5)(53.5,65.5)(54.5,55.5)(55.5,62.5)(56.5,52.5)(57.5,67.5)(58.5,58.5)(59.5,62.5)(60.5,56.5)(61.5,66.5)(62.5,60.5)(63.5,69.5)(64.5,64.5)(65.5,58.5)(66.5,72.5)(67.5,64.5)(68.5,58.5)(69.5,70.5)(70.5,64.5)(71.5,72.5)(72.5,78.5)(73.5,66.5)(74.5,72.5)(75.5,77.5)(76.5,71.5)(77.5,66.5)(78.5,84.5)(79.5,72.5)(80.5,80.5)(81.5,74.5)(82.5,86.5)(83.5,72.5)(84.5,81.5)(85.5,69.5)(86.5,84.5)
(53,53)(55,54)(57,56)(59,59)(61,60)(63,62)(65,63)(67,69)(69,66)(71,71)(73,72)(75,70)(77,71)(79,82)(56,60)(58,65)(60,71)(62,74)(64,72)(66,76)(68,76)(70,78)(72,80)(74,82)(76,86)(78,88)(50,52)(52,47)(54,46)(56,45)(58,47)(60,49)(62,51)(64,54)(66,56)(68,56)(70,58)(72,57)(74,60)(76,60)(78,66)(80,68)(82,76)
};
\addplot[diag] coordinates {(0,0) (97,97)};
\end{axis}

% (F)
\begin{axis}[qca, at={(924pt,50pt)}, anchor=south west, width=283pt, height=285pt,
  xmin=0, xmax=78.6, ymin=0, ymax=78.7, xtick={0,10,...,70}, ytick={0,10,...,70}]
\addplot[band] coordinates {(0,24.7) (78.6,103.3) (78.6,53.9) (0,-24.7)};
\addplot[pts] coordinates {
(8,13)(8.5,16)(9,11)(9,14)(9.5,18)(10,12)(10,15)(10,21)(10.5,13)(10.5,17)(11,10)(11,14)(11,19)(11,24)(11.5,12)(11.5,16)(12,13)(12,18)(12,22)(12,11)(12.5,15)(12.5,20)(13,12)(13,14)(13,17)(13,26)(13.5,16)(13.5,19)(13.5,13)(14,15)(14,18)(14,21)(14,12)(14.5,17)(14.5,14)(14.5,24)
(15,16)(15,19)(15,13)(15,22)(15.5,18)(15.5,15)(15.5,28)(16,17)(16,20)(16,14)(16,23)(16.5,19)(16.5,16)(17,18)(17,21)(17,15)(17,26)(17.5,20)(17.5,17)(17.5,30)(18,19)(18,22)(18,16)(18,25)(18.5,21)(18.5,18)(19,20)(19,23)(19,17)(19,28)(19.5,22)(19.5,19)(20,21)(20,24)(20,18)(20,31)(20.5,23)(20.5,20)
(21,22)(21,26)(21,19)(21,29)(21.5,24)(22,23)(22,27)(22,20)(22,33)(22.5,25)(23,26)(23,29)(23,22)(23.5,28)(24,27)(24,31)(24,24)(24.5,29)(25,28)(25,33)(25,25)(25.5,30)(26,31)(26,35)(26,27)(26.5,33)(27,32)(27,29)(27,36)(27.5,34)(28,31)(28,35)(28,27)(28.5,33)(29,34)(29,30)(29,38)(29.5,36)
(30,33)(30,37)(30,29)(30.5,35)(31,36)(31,32)(31,40)(31.5,34)(32,37)(32,35)(32,42)(32.5,33)(33,38)(33,35)(33,30)(33.5,40)(34,37)(34,34)(34,44)(34.5,39)(35,36)(35,41)(35,33)(35.5,38)(36,40)(36,37)(36,46)(36.5,42)(37,39)(37,43)(37,35)(37.5,44)(38,41)(38,47)(39,43)(39,37)(40,45)(40,40)(41,47)(42,44)(43,50)
(12.5,17)(13,19)(13.5,15)(14,17)(14.5,19)(15,17)(15.5,20)(16,18)(16.5,15)(17,19)(17.5,16)(18,20)(18.5,17)(19,21)(19.5,18)(20,22)(13,15.5)(14,16.5)(15,18)(16,16)(17,17)(18,18)(11,16)(12,15)(10,17)(9,16)(8,18)(7,14)(7.5,12)(9.5,10)(22,25)(24,26)(26,29)(28,33)(30,31)(32,33)(21,24)(23,24)(25,30)(27,30)(29,32)(31,34)(33,36)(35,38)(19,25)(20,26)(21,27)(22,22)
(44.0,74.7)(12.8,70.9)(10.7,62.9)(9.5,50.7)(18.4,56.4)(23.8,54.3)(30.8,64.5)(13.6,40.0)(13.2,38.0)(16.2,39.8)(10.6,33.2)(4.6,20.2)
(56.9,72.3)(56.3,68.2)(67.0,69.7)(69.4,71.3)(70.9,63.4)(59.8,70.3)(60.3,70.1)(60.9,65.4)(62.3,66.4)(61.7,65.9)(62.6,59.8)(59.8,60.5)(60.0,62.2)(60.5,30.6)(63.7,19.0)(46.7,19.7)
(45.1,68.4)(47.4,64.6)(54.0,62.6)(51.4,61.2)(53.7,47.7)(50.3,46.4)(50.4,44.2)(49.1,41.4)(46.8,36.4)(44.3,32.6)(42.6,38.5)(42.2,34.2)(44.0,37.0)(38.5,35.3)(40.9,16.2)(39.4,15.6)(38.5,24.0)(38.2,18.3)(38.5,18.1)(34.3,16.0)(33.6,10.8)(30.8,8.5)(29.4,15.1)(29.1,12.8)(27.3,15.5)(25.3,15.3)(23.5,14.2)(34.4,20.1)(33.3,17.8)(34.5,24.6)(35.3,24.5)(30.6,21.1)(31.1,24.3)
(11.4,6.1)(17.4,5.2)(14.9,8.0)(16.6,9.3)(18.2,8.6)(19.7,8.9)(9.9,9.6)(36.0,54.8)
(37.7,50.5)(38.1,49.3)(39.1,58.8)(42.6,58.8)(42.2,54.6)(43.3,54.9)(45.1,54.2)(46.1,55.1)(48.0,57.9)(49.3,59.7)(48.7,61.1)(51.6,58.6)(53.0,59.2)(54.7,57.9)(50.9,53.4)(51.2,51.0)(45.6,52.3)(46.5,50.5)(47.7,49.4)(47.9,47.3)(41.4,48.2)(40.5,47.0)(42.8,47.7)(44.2,48.7)(40.1,44.1)(41.4,43.0)(42.6,40.8)(40.3,45.0)(45.1,44.1)(40.8,40.8)(39.8,38.5)
};
\addplot[pts] coordinates {
(9.3,13.6)(9.8,15.2)(10.3,11.8)(10.7,14.4)(11.2,16.8)(11.6,13.2)(12.1,14.7)(12.4,12.3)(12.8,16.3)(13.2,13.8)(13.6,17.6)(13.9,14.4)(14.3,16.1)(14.7,18.7)(15.1,14.9)(15.4,17.2)(15.8,19.6)(16.2,15.8)(16.6,18.3)(16.9,20.7)(17.3,16.9)(17.7,19.4)(18.1,21.8)(18.4,17.6)(18.8,20.2)(19.2,22.7)(19.6,18.9)(19.9,21.3)(20.3,23.8)(20.7,20.1)(21.2,22.6)(21.6,25.3)(22.1,21.4)(22.5,24.1)(22.9,26.7)(23.4,23.2)(23.8,25.6)(24.3,28.4)(24.7,24.6)(25.2,27.2)
(25.6,29.8)(26.1,26.3)(26.6,28.7)(27.2,31.4)(27.8,28.6)(28.3,32.2)(28.8,29.7)(29.4,33.1)(29.9,31.6)(30.6,34.2)(31.2,32.8)(31.8,35.6)(32.4,34.1)(33.1,37.2)(33.7,35.4)(34.4,38.6)(35.1,36.7)(35.8,39.7)(36.6,38.4)(37.4,41.5)(38.3,39.6)(39.2,42.7)(10.2,19.3)(11.4,21.6)(12.6,23.8)(13.8,22.4)(15.2,25.3)(16.4,26.8)(17.8,27.4)(19.3,29.2)(20.8,30.6)(22.4,31.7)(23.6,32.8)(24.9,34.6)
(12.2,9.4)(13.4,10.6)(14.6,11.2)(15.9,12.4)(17.2,13.3)(18.6,14.1)(19.8,15.3)(21.3,16.6)(22.7,17.8)(24.2,19.4)(25.8,21.2)(27.4,23.6)(28.9,25.2)(14.1,19.9)(15.6,21.4)(16.7,22.6)(17.9,23.6)(14.8,15.6)(15.7,16.4)(16.3,17.4)(13.7,17.2)(12.9,18.1)(11.8,17.4)(10.9,15.8)(17.6,18.6)(18.7,19.3)(19.4,20.6)(20.6,21.8)(21.8,23.4)
(8.6,14.6)(9.1,12.6)(9.7,16.9)(10.4,14.1)(10.9,18.3)(11.3,12.7)(11.9,15.4)(12.3,17.2)(12.7,13.6)(13.1,15.1)(13.5,18.4)(14.2,14.6)(14.6,16.6)(15.3,15.4)(15.7,17.9)(16.4,16.7)(16.8,19.2)(17.4,17.6)(17.9,20.6)(18.5,19.6)(19.1,18.4)(19.7,23.4)(20.4,21.4)(21.1,20.6)(21.7,23.1)(22.3,26.2)(23.1,24.8)(23.7,27.6)(24.5,26.2)(25.3,29.1)
(26.4,30.2)(27.5,32.6)(28.6,31.3)(29.7,34.6)(30.8,33.2)(31.9,36.8)(33.4,34.2)(34.9,37.6)(36.3,41.3)(37.7,40.2)(12.1,20.6)(13.3,21.7)(14.4,22.8)(15.9,23.6)(17.1,24.4)(18.3,26.3)(11.6,18.6)(9.8,13.9)(8.3,11.6)(7.4,15.6)
};
\addplot[diag] coordinates {(0,0) (78.7,78.7)};
\end{axis}

\node[anchor=west, inner sep=0pt, font=\ttl] at (466pt,771pt) {(B) Distal referene diameter (mm)};
\node[anchor=west, inner sep=0pt, font=\ttl] at (897pt,771pt) {(C) Reference diameter (mm)};
\node[anchor=west, inner sep=0pt, font=\ttl] at (33pt,373pt) {(D) Minimum lumen diameter (mm)};
\node[anchor=west, inner sep=0pt, font=\ttl] at (466pt,373pt) {(E) Percent diameter stenosis (\%)};
\node[anchor=west, inner sep=0pt, font=\ttl] at (897pt,373pt) {(F) Lesion length (mm)};
\end{tikzpicture}
\end{document}
